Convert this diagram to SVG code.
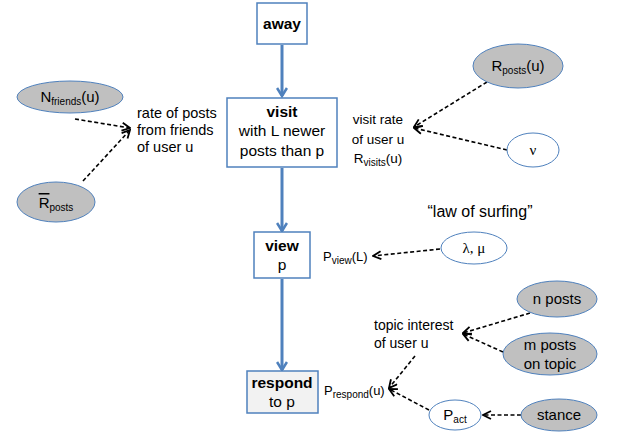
<svg xmlns="http://www.w3.org/2000/svg" width="621" height="441" viewBox="0 0 621 441">
<defs>
<marker id="dh" viewBox="0 0 10 10" refX="9" refY="5" markerWidth="10" markerHeight="10" markerUnits="userSpaceOnUse" orient="auto">
<path d="M1,1 L9,5 L1,9" fill="none" stroke="#000" stroke-width="1.8"/>
</marker>
<marker id="bh" viewBox="0 0 12 12" refX="10" refY="6" markerWidth="12" markerHeight="12" markerUnits="userSpaceOnUse" orient="auto">
<path d="M2,1 L10,6 L2,11" fill="none" stroke="#4f81bd" stroke-width="2.6"/>
</marker>
</defs>
<style>
text{font-family:"Liberation Sans",Arial,sans-serif;fill:#000}
.box{fill:#fff;stroke:#4f81bd;stroke-width:1.5}
.g{fill:#c0c0c0;stroke:#4f81bd;stroke-width:1}
.w{fill:#fff;stroke:#4f81bd;stroke-width:1}
.main{font-size:15.5px;text-anchor:middle}
.b{font-weight:bold}
.lbl{font-size:13px}
.el{font-size:15px;text-anchor:middle}
.sub{font-size:10px}
.blue{stroke:#4f81bd;stroke-width:3;fill:none;marker-end:url(#bh)}
.dash{stroke:#000;stroke-width:1.6;stroke-dasharray:4,2.5;fill:none;marker-end:url(#dh)}
</style>
<g id="connectors">
<line class="blue" x1="282" y1="45" x2="282" y2="96"/>
<line class="blue" x1="282" y1="168" x2="282" y2="231"/>
<line class="blue" x1="282" y1="279" x2="282" y2="370"/>
<line class="dash" x1="75" y1="119" x2="130" y2="128"/>
<line class="dash" x1="83" y1="181" x2="130" y2="130"/>
<line class="dash" x1="487" y1="82" x2="414" y2="127"/>
<line class="dash" x1="507" y1="150" x2="414" y2="128"/>
<line class="dash" x1="440" y1="249" x2="373" y2="256"/>
<line class="dash" x1="530" y1="313" x2="463" y2="333"/>
<line class="dash" x1="503" y1="352" x2="463" y2="334"/>
<line class="dash" x1="415" y1="356" x2="389" y2="388"/>
<line class="dash" x1="429" y1="410" x2="389" y2="389"/>
<line class="dash" x1="521" y1="415" x2="483" y2="415"/>
</g>
<g id="away">
<rect class="box" x="257" y="3" width="50" height="41"/>
<text class="main b" x="282" y="29">away</text>
</g>
<g id="visit">
<rect class="box" x="227" y="98" width="110" height="69"/>
<text class="main b" x="282" y="117">visit</text>
<text class="main" x="282" y="136">with L newer</text>
<text class="main" x="282" y="156">posts than p</text>
</g>
<g id="view">
<rect class="box" x="254" y="232" width="56" height="46"/>
<text class="main b" x="282" y="251">view</text>
<text class="main" x="282" y="270">p</text>
</g>
<g id="respond">
<rect class="box" x="247" y="371" width="71" height="42" style="fill:#f2f2f2"/>
<text class="main b" x="282" y="388">respond</text>
<text class="main" x="282" y="407">to p</text>
</g>
<g id="nfriends">
<ellipse class="g" cx="70" cy="97" rx="53" ry="16"/>
<text class="el" x="70" y="102">N<tspan class="sub" dy="3">friends</tspan><tspan dy="-3">(u)</tspan></text>
</g>
<g id="rbarposts">
<ellipse class="g" cx="56" cy="202" rx="39" ry="20"/>
<text class="el" x="56" y="208"><tspan style="text-decoration:overline">R</tspan><tspan class="sub" dy="3">posts</tspan></text>
</g>
<g id="rate-friends">
<text class="lbl" x="137" y="118" style="font-size:14.5px">rate of posts</text>
<text class="lbl" x="137" y="135" style="font-size:14.5px">from friends</text>
<text class="lbl" x="137" y="152" style="font-size:14.5px">of user u</text>
</g>
<g id="rposts">
<ellipse class="g" cx="518" cy="66" rx="45" ry="22"/>
<text class="el" x="518" y="71">R<tspan class="sub" dy="3">posts</tspan><tspan dy="-3">(u)</tspan></text>
</g>
<g id="nu">
<ellipse class="w" cx="533" cy="150" rx="26" ry="17"/>
<text class="el" x="533" y="155" style="font-family:'Liberation Serif',serif">ν</text>
</g>
<g id="visit-rate">
<text class="lbl" x="378" y="124" text-anchor="middle" style="font-size:13.5px">visit rate</text>
<text class="lbl" x="378" y="144" text-anchor="middle" style="font-size:13.5px">of user u</text>
<text class="lbl" x="378" y="163" text-anchor="middle" style="font-size:13.5px">R<tspan class="sub" dy="3">visits</tspan><tspan dy="-3">(u)</tspan></text>
</g>
<g id="law">
<text x="480" y="217" style="font-size:16px;text-anchor:middle">“law of surfing”</text>
</g>
<g id="lambdamu">
<ellipse class="w" cx="474" cy="248" rx="33" ry="16"/>
<text class="el" x="474" y="253" style="font-family:'Liberation Serif',serif">λ, μ</text>
</g>
<g id="pview">
<text class="lbl" x="323" y="261">P<tspan class="sub" dy="3">view</tspan><tspan dy="-3">(L)</tspan></text>
</g>
<g id="nposts">
<ellipse class="g" cx="557" cy="299" rx="40" ry="18"/>
<text class="el" x="557" y="304">n posts</text>
</g>
<g id="mposts">
<ellipse class="g" cx="550" cy="354" rx="47" ry="21"/>
<text class="el" x="550" y="350">m posts</text>
<text class="el" x="550" y="369">on topic</text>
</g>
<g id="topic-interest">
<text class="lbl" x="374" y="330" style="font-size:14px">topic interest</text>
<text class="lbl" x="374" y="348" style="font-size:14px">of user u</text>
</g>
<g id="prespond">
<text class="lbl" x="324" y="395">P<tspan class="sub" dy="3">respond</tspan><tspan dy="-3">(u)</tspan></text>
</g>
<g id="pact">
<ellipse class="w" cx="455" cy="415" rx="26" ry="15"/>
<text class="el" x="455" y="420">P<tspan class="sub" dy="3">act</tspan></text>
</g>
<g id="stance">
<ellipse class="g" cx="559" cy="415" rx="38" ry="16"/>
<text class="el" x="559" y="420">stance</text>
</g>
</svg>
